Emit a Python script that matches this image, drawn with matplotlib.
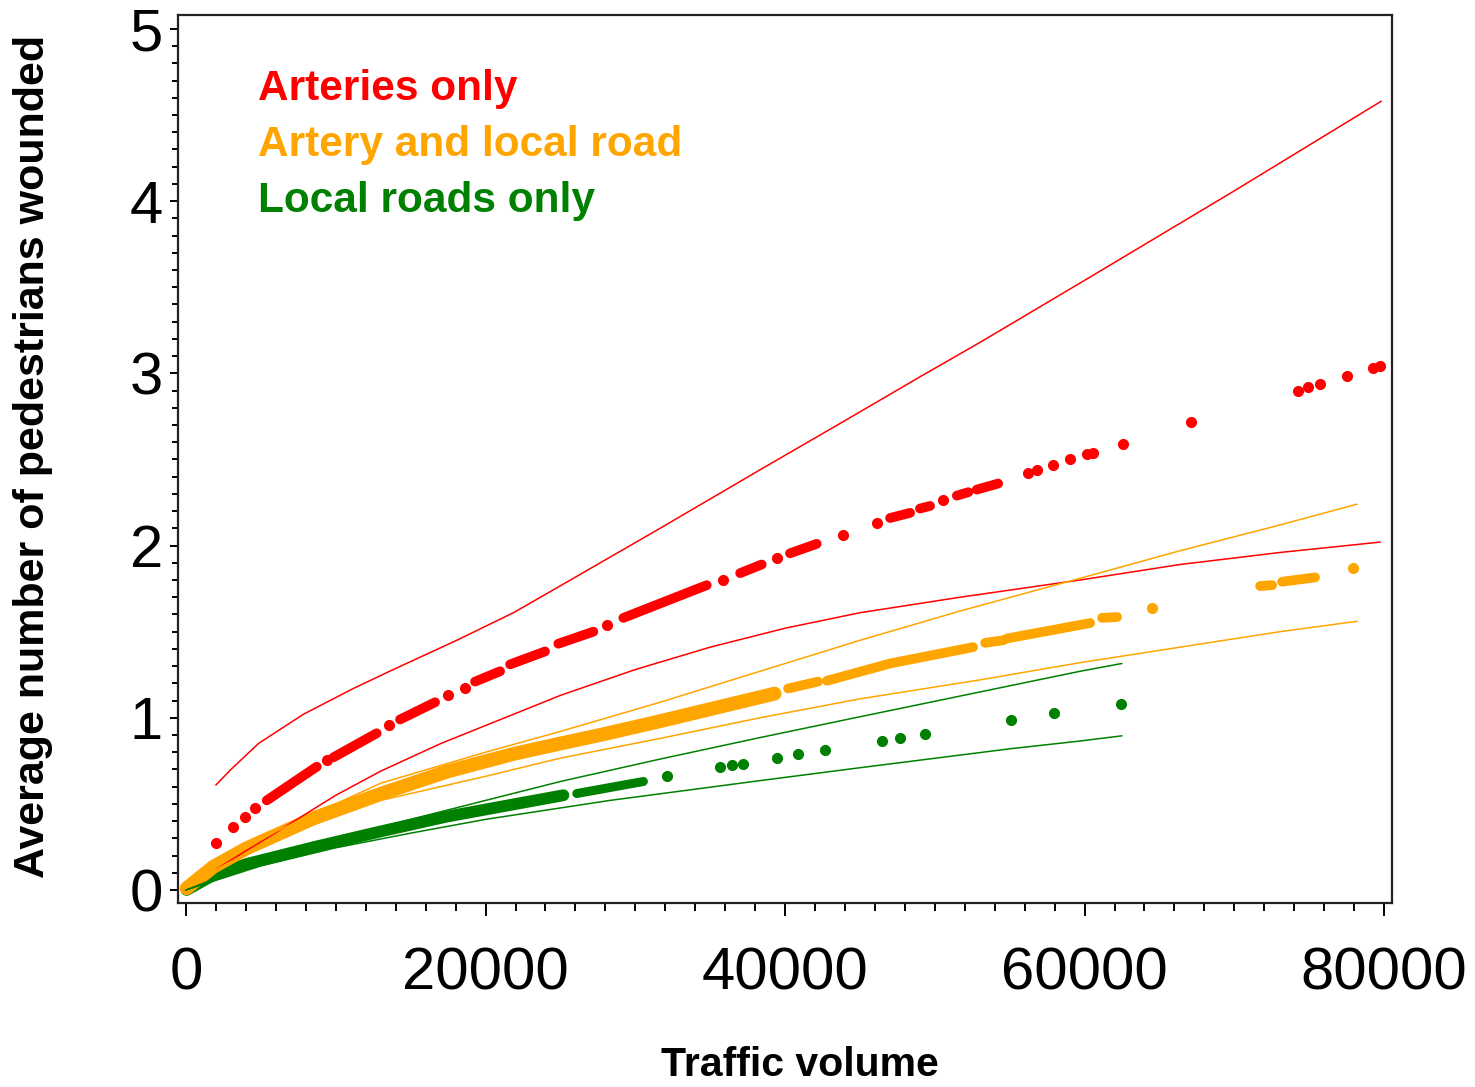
import numpy as np
import matplotlib
matplotlib.use('Agg')
import matplotlib.pyplot as plt
from matplotlib.ticker import MultipleLocator

plt.rcParams['font.family'] = ['Liberation Sans', 'DejaVu Sans']

RED = '#ff0000'
ORANGE = '#ffa500'
GREEN = '#008000'
nan = np.nan

### data ###

# arteries only (red)
red_upper_x = [2000, 3000, 4830, 7830, 11170, 13840, 18080, 21860, 24970, 31650, 38330, 43890, 49010, 53020, 60000, 70000, 79800]
red_upper_y = [0.61, 0.70, 0.85, 1.02, 1.17, 1.28, 1.45, 1.61, 1.765, 2.10, 2.44, 2.72, 2.98, 3.18, 3.54, 4.06, 4.58]
red_lower_x = [2000, 6300, 10000, 13000, 17000, 21860, 25000, 30000, 35000, 40000, 45000, 51690, 59700, 66380, 73060, 79730]
red_lower_y = [0.12, 0.35, 0.55, 0.69, 0.85, 1.02, 1.13, 1.28, 1.41, 1.52, 1.61, 1.70, 1.80, 1.89, 1.96, 2.02]
red_dot_x = [2000, 3160, 3940, 4610, 9400, 13580, 17520, 18630, 28100, 35880, 39450, 43890, 46130, 50570,
             56240, 56830, 57900, 59030, 60150, 60570, 62580, 67090, 74260, 74930, 75730, 77510, 79270, 79730]
red_dot_y = [0.275, 0.367, 0.425, 0.474, 0.755, 0.96, 1.13, 1.175, 1.54, 1.80, 1.925, 2.06, 2.13, 2.265,
             2.42, 2.44, 2.47, 2.50, 2.53, 2.54, 2.59, 2.715, 2.90, 2.92, 2.94, 2.985, 3.03, 3.04]
# runs of dots so close they merge
red_run_x = [5390, 8730, nan, 9840, 12730, nan, 14290, 16630, nan, 19300, 20970, nan, 21640, 23970, nan,
             24860, 27200, nan, 29200, 34770, nan, 37000, 38440, nan, 40330, 42110, nan, 47010, 48350, nan,
             49010, 49680, nan, 51470, 52240, nan, 52800, 54230]
red_run_y = [0.52, 0.716, nan, 0.77, 0.91, nan, 0.99, 1.09, nan, 1.21, 1.27, nan, 1.31, 1.385, nan,
             1.43, 1.50, nan, 1.58, 1.77, nan, 1.84, 1.89, nan, 1.955, 2.01, nan, 2.16, 2.19, nan,
             2.215, 2.23, nan, 2.29, 2.31, nan, 2.325, 2.36]

# artery and local road (orange)
orange_upper_x = [0, 2000, 6000, 13000, 20000, 24970, 31650, 38330, 45010, 51690, 59700, 66380, 73060, 78180]
orange_upper_y = [0.0, 0.14, 0.34, 0.62, 0.80, 0.92, 1.09, 1.27, 1.45, 1.62, 1.81, 1.97, 2.12, 2.24]
orange_lower_x = [0, 2000, 6000, 13000, 20000, 24970, 31650, 38330, 45010, 53020, 59700, 66380, 73060, 78180]
orange_lower_y = [0.0, 0.12, 0.30, 0.52, 0.66, 0.765, 0.88, 1.00, 1.11, 1.22, 1.32, 1.41, 1.50, 1.56]
orange_band_x = [40, 1830, 4050, 8500, 12950, 17410, 21860, 24970, 27650, 31650, 35000, 39300]
orange_band_y = [0.01, 0.135, 0.242, 0.416, 0.557, 0.687, 0.79, 0.85, 0.90, 0.98, 1.05, 1.14]
orange_run_x = [40200, 42200, nan, 42800, 46800, nan, 47000, 52550, nan, 53360, 54560, nan, 54800, 60370, nan,
                61170, 62170, nan, 71720, 72520, nan, 73190, 75390]
orange_run_y = [1.17, 1.21, nan, 1.215, 1.31, nan, 1.315, 1.41, nan, 1.435, 1.45, nan, 1.46, 1.55, nan,
                1.58, 1.585, nan, 1.765, 1.77, nan, 1.79, 1.815]
orange_dot_x = [64500, 77930]
orange_dot_y = [1.635, 1.87]

# local roads only (green)
green_upper_x = [0, 5000, 10000, 15000, 20000, 25000, 31650, 38330, 45010, 53020, 59700, 62480]
green_upper_y = [0.0, 0.17, 0.30, 0.41, 0.52, 0.63, 0.76, 0.885, 1.006, 1.15, 1.27, 1.315]
green_lower_x = [0, 5000, 10000, 15000, 20000, 28300, 38330, 45010, 55030, 59700, 62480]
green_lower_y = [0.0, 0.14, 0.245, 0.33, 0.41, 0.52, 0.635, 0.71, 0.82, 0.865, 0.895]
green_band_x = [40, 1830, 4050, 8500, 12950, 17410, 21860, 25200]
green_band_y = [0.0, 0.087, 0.151, 0.248, 0.339, 0.426, 0.497, 0.55]
green_run_x = [26090, 30540]
green_run_y = [0.56, 0.63]
green_dot_x = [32100, 35660, 36440, 37220, 39450, 40890, 42670, 46460, 47680, 49350, 55080, 57960, 62440]
green_dot_y = [0.66, 0.716, 0.726, 0.73, 0.765, 0.79, 0.813, 0.867, 0.88, 0.904, 0.987, 1.025, 1.08]

legend_labels = ['Arteries only', 'Artery and local road', 'Local roads only']

### plotting ###

fig = plt.figure(figsize=(14.75, 10.87), dpi=100)
ax = fig.add_axes([0.1207, 0.1693, 0.8231, 0.8169])

# dots first, fitted curves on top
ax.plot(green_band_x, green_band_y, color=GREEN, lw=8.5, solid_capstyle='round', zorder=2)
ax.plot(green_run_x, green_run_y, color=GREEN, lw=6.5, solid_capstyle='round', zorder=2)
ax.plot(green_dot_x, green_dot_y, 'o', color=GREEN, ms=7, zorder=2)

ax.plot(orange_band_x, orange_band_y, color=ORANGE, lw=10, solid_capstyle='round', zorder=2)
ax.plot(orange_run_x, orange_run_y, color=ORANGE, lw=7, solid_capstyle='round', zorder=2)
ax.plot(orange_dot_x, orange_dot_y, 'o', color=ORANGE, ms=7, zorder=2)

ax.plot(red_run_x, red_run_y, color=RED, lw=7, solid_capstyle='round', zorder=2)
ax.plot(red_dot_x, red_dot_y, 'o', color=RED, ms=7, zorder=2)

for xs, ys, c in [(red_upper_x, red_upper_y, RED), (red_lower_x, red_lower_y, RED),
                  (orange_upper_x, orange_upper_y, ORANGE), (orange_lower_x, orange_lower_y, ORANGE),
                  (green_upper_x, green_upper_y, GREEN), (green_lower_x, green_lower_y, GREEN)]:
  ax.plot(xs, ys, color=c, lw=1.1, zorder=3)

ax.set_xlim(-534, 80534)
ax.set_ylim(-0.0755, 5.081)

ax.set_xticks([0, 20000, 40000, 60000, 80000])
ax.set_xticklabels(['0', '20000', '40000', '60000', '80000'])
ax.set_yticks([0, 1, 2, 3, 4, 5])
ax.set_yticklabels(['0', '1', '2', '3', '4', '5'])
ax.xaxis.set_minor_locator(MultipleLocator(2000))
ax.yaxis.set_minor_locator(MultipleLocator(0.1))

ax.tick_params(axis='both', which='both', direction='out', width=1.4, colors='black', labelsize=43)
ax.tick_params(axis='x', which='major', length=9.5, pad=22)
ax.tick_params(axis='x', which='minor', length=6)
ax.tick_params(axis='y', which='major', length=6, pad=5)
ax.tick_params(axis='y', which='minor', length=4)

for sp in ax.spines.values():
  sp.set_linewidth(1.6)
  sp.set_color('#222222')

fig.text(0.0224, 0.5805, 'Average number of pedestrians wounded', rotation=90,
         ha='center', va='center', fontsize=31, fontweight='bold')
fig.text(800 / 1475, 0.003, 'Traffic volume', ha='center', va='bottom',
         fontsize=29.5, fontweight='bold')

for label, c, yb in zip(legend_labels, [RED, ORANGE, GREEN], [100, 156, 212]):
  fig.text(258 / 1475, 1 - yb / 1087, label, color=c, fontsize=30.5, fontweight='bold',
           ha='left', va='baseline')

fig.savefig('out.png', dpi=100)
